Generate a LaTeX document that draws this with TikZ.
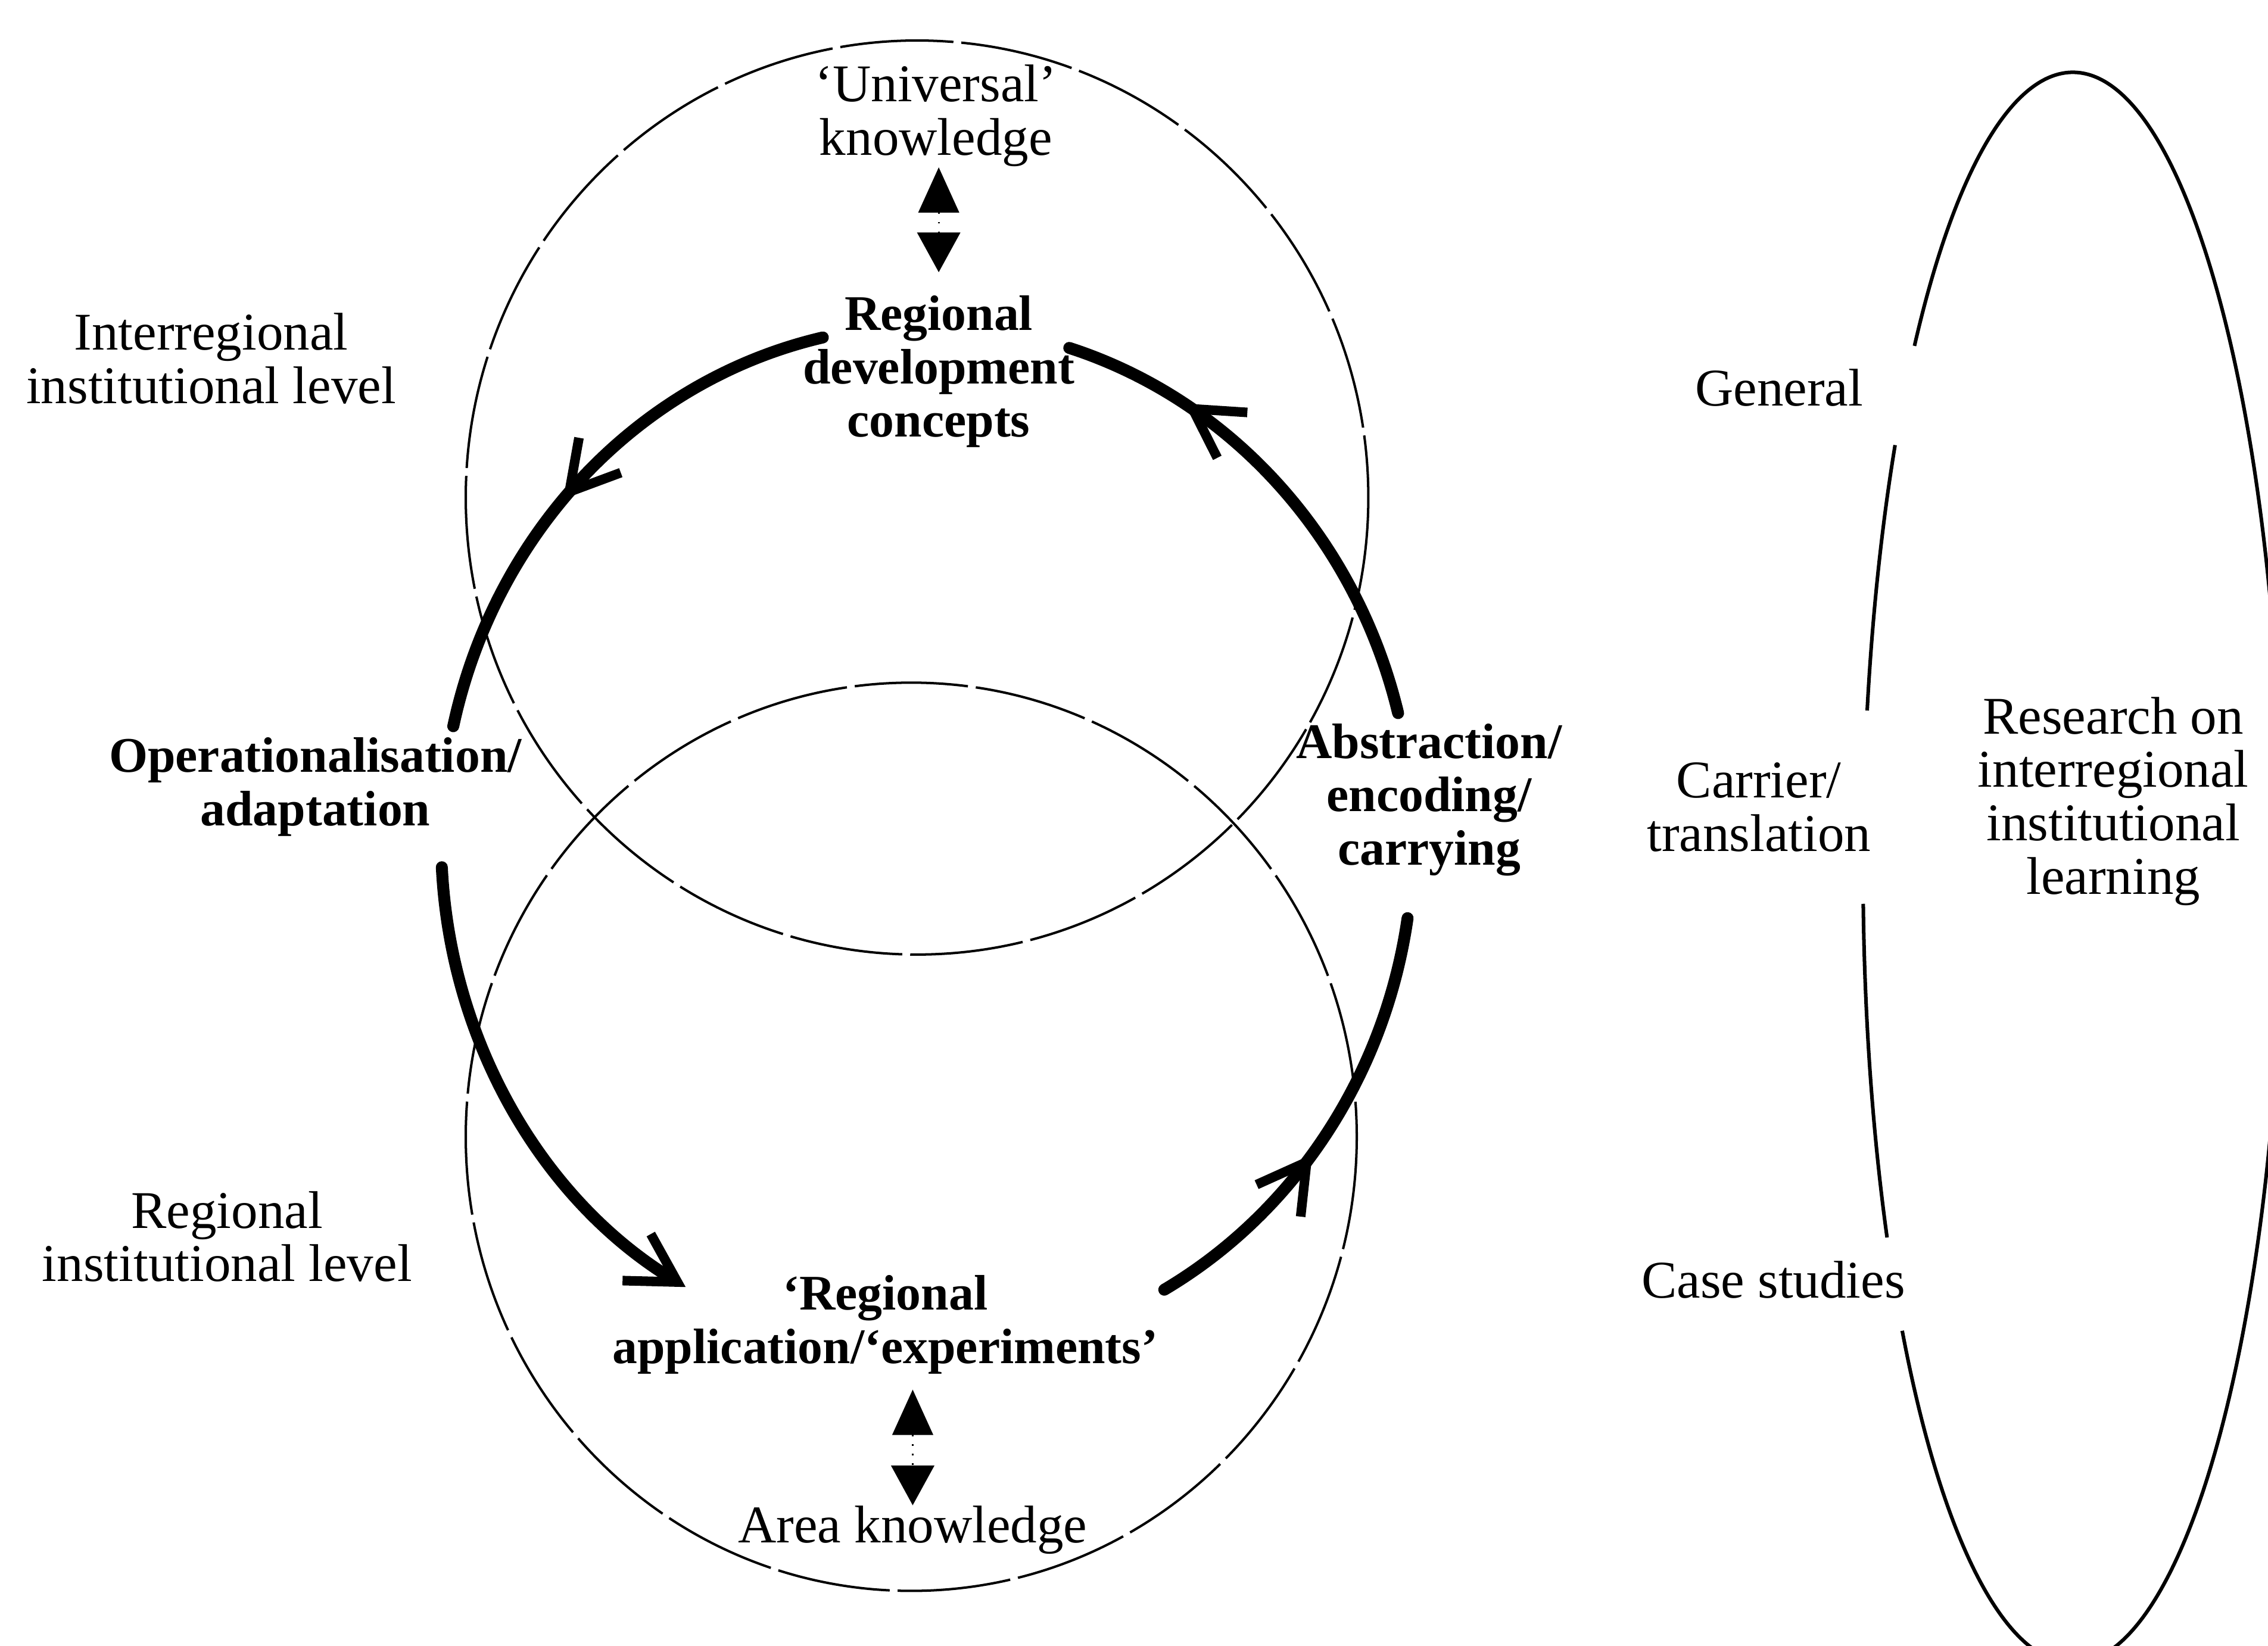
\documentclass[tikz,border=0pt]{standalone}
\usepackage{fontspec}
\setmainfont{Liberation Serif}
\usetikzlibrary{arrows.meta,decorations.markings,calc}

\tikzset{
  lbl/.style={align=center, inner sep=0pt, font=\fontsize{13.3}{13.4}\selectfont},
  boldlbl/.style={lbl, font=\fontsize{12.5}{13.4}\selectfont\bfseries},
  ringline/.style={line width=0.6pt, dash pattern=on 10mm off 0.7mm},
  sideline/.style={line width=0.9pt},
  flow/.style={line width=3pt, line cap=round},
  barbtip/.tip={Straight Barb[length=4.2mm, width=4.8mm, line width=2.4pt]},
  midbarb/.style={postaction={decorate},
    decoration={markings, mark=at position #1 with {\arrow{barbtip}}}},
  twoway/.style={{Triangle[length=4mm,width=3.6mm]}-{Triangle[length=3.5mm,width=3.8mm]},
    line width=0.4pt, dotted}
}

\begin{document}
\begin{tikzpicture}[x=0.1275mm, y=-0.1275mm]
  \useasboundingbox (0,0) rectangle (1568,1138);

  % the two thin rings
  \draw[ringline] (634,344) ellipse [x radius=312, y radius=316];
  \draw[ringline] (630,786) ellipse [x radius=308, y radius=314];

  % labels
  \node[lbl] (univ) at (647,80) {‘Universal’\\knowledge};
  \node[boldlbl] (rdc) at (649,257) {Regional\\development\\concepts};
  \node[lbl] (interreg) at (146,248) {Interregional\\institutional level};
  \node[boldlbl] (oper) at (218,544) {Operationalisation/\\adaptation};
  \node[boldlbl] (abstr) at (988,553) {Abstraction/\\encoding/\\carrying};
  \node[lbl] (reginst) at (157,855) {Regional\\institutional level};
  \node[boldlbl] (rapp) at (612,916) {‘Regional\\application/‘experiments’};
  \node[lbl] (area) at (631,1058) {Area knowledge};
  \node[lbl] (general) at (1230,268) {General};
  \node[lbl] (carrier) at (1216,558) {Carrier/\\translation};
  \node[lbl] (cases) at (1226,885) {Case studies};
  \node[lbl] (research) at (1461,554) {Research on\\interregional\\institutional\\learning};

  % two-way links
  \draw[twoway, shorten >=2mm] (univ.south -| rdc.north) -- (rdc.north);
  \draw[twoway, shorten <=1.3mm] (rapp.south -| area.north) -- (area.north);

  % the learning cycle
  \coordinate (C) at (641,581);
  \coordinate (tlA) at ($(C)+(257.6:336 and 356)$);
  \coordinate (trA) at ($(C)+(345.7:336 and 356)$);
  \coordinate (blA) at ($(C)+(177:336 and 356)$);
  \coordinate (brA) at ($(C)+(60.8:336 and 356)$);
  \draw[flow, midbarb=0.55] (tlA) arc[start angle=257.6, end angle=192.8, x radius=336, y radius=356];
  \draw[flow, midbarb=0.75] (trA) arc[start angle=345.7, end angle=287, x radius=336, y radius=356];
  \draw[flow, -barbtip] (blA) arc[start angle=177, end angle=119.8, x radius=336, y radius=356];
  \draw[flow, midbarb=0.44] (brA) arc[start angle=60.8, end angle=8.7, x radius=336, y radius=356];

  % research ring, broken at the side labels
  \coordinate (R) at (1433,600);
  \draw[sideline] ($(R)+(221:145 and 550)$) arc[start angle=221, end angle=504.4, x radius=145, y radius=550];
  \draw[sideline] ($(R)+(152.3:145 and 550)$) arc[start angle=152.3, end angle=177.4, x radius=145, y radius=550];
  \draw[sideline] ($(R)+(191.4:145 and 550)$) arc[start angle=191.4, end angle=212.1, x radius=145, y radius=550];

\end{tikzpicture}
\end{document}
